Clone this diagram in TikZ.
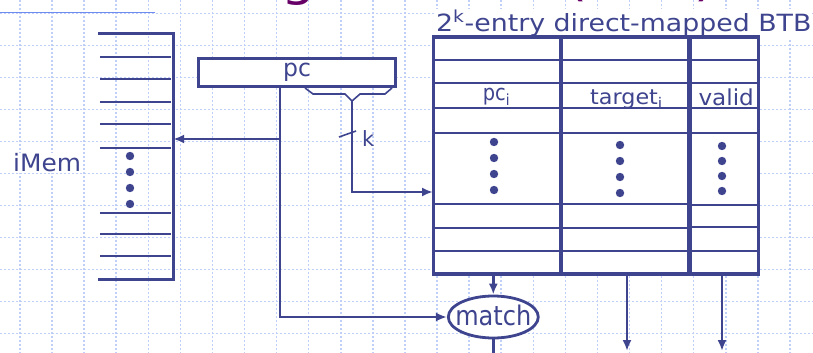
\documentclass[tikz,border=0pt]{standalone}
\usepackage{graphicx}
\usepackage{fontspec}
\setmainfont{DejaVu Sans}
\usetikzlibrary{arrows.meta,shapes.geometric}
\definecolor{ink}{RGB}{62,68,142}
\definecolor{gridc}{RGB}{192,207,248}
\definecolor{toprule}{RGB}{110,140,240}
\definecolor{ttlc}{RGB}{102,0,102}
\tikzset{
  gridline/.style={gridc, line width=1.5pt, dash pattern=on 2pt off 2pt},
  thickline/.style={ink, line width=3.4pt},
  rowline/.style={ink, line width=2.8pt},
  conn/.style={ink, line width=2.8pt, -{Latex[length=11pt,width=9pt]}},
  plainconn/.style={ink, line width=2.8pt},
  thinline/.style={ink, line width=1.6pt},
  lbl/.style={text=ink, inner sep=0pt},
}
\newcommand{\tx}[3]{\scalebox{#2}[1]{\fontsize{#1}{#1}\selectfont #3}}
\begin{document}
\begin{tikzpicture}[x=1pt,y=-1pt]
\useasboundingbox (0,0) rectangle (813,353);
\begin{scope}
\clip (0,0) rectangle (813,353);
% background grid
\foreach \i in {0,...,24} \draw[gridline] (20+32.08*\i,0) -- (20+32.08*\i,353);
\foreach \j in {0,...,10} \draw[gridline] (0,13.5+32*\j) -- (813,13.5+32*\j);
\draw[toprule, line width=1.2pt] (0,12.5) -- (155,12.5);
% slide title (cut off at the top, as in the slide)
\node[anchor=base west, text=ttlc, inner sep=0pt] (slidetitle) at (-4,-4) {\tx{48}{1.12}{Branch Target Buffer (BTB)}};
% BTB caption
\node[lbl, anchor=base west, fill=white, inner sep=1pt] (btbtitle) at (435,32) {\tx{23.7}{1.13}{2\textsuperscript{k}-entry direct-mapped BTB}};
% iMem
\node[inner sep=0pt, minimum width=75pt, minimum height=245pt] (imem) at (135.5,156.5) {};
\draw[thickline] (imem.north west) -- (imem.north east) -- (imem.south east) -- (imem.south west);
\foreach \y in {57,79,102,124,148,213,234,256} \draw[rowline] (100,\y) -- (171,\y);
\foreach \y in {156,172,188,204} \fill[ink] (130,\y) circle[radius=4.2pt];
\node[lbl, anchor=base west, fill=white, inner sep=1pt] (imemlbl) at (12,171.7) {\tx{23.9}{1.04}{iMem}};
% pc register
\node[draw=ink, line width=3.4pt, fill=white, text=ink, minimum width=196.5pt, minimum height=28pt, inner sep=0pt] (pc) at (297,72.5) {\tx{24}{0.98}{pc}};
% splitter under pc
\coordinate (kpt) at (352,101);
\draw[thinline] (305,88) -- (313,94) -- (345,94) -- (kpt) -- (360,94) -- (385,94) -- (392,88);
% BTB table
\node[draw=ink, line width=3.4pt, fill=white, minimum width=325pt, minimum height=237pt, inner sep=0pt] (btb) at (596.2,155.5) {};
\draw[thickline] (560.8,37) -- (560.8,274);
\draw[ink, line width=4.5pt] (689.7,37) -- (689.7,274);
\foreach \y in {60,83,108,133,204,228,251} \draw[rowline] (435,\y) -- (689,\y);
\foreach \y in {60,83,108,133,205,227,251} \draw[rowline] (690,\y) -- (757,\y);
\node[lbl, anchor=base] (pci) at (496.5,100.5) {\tx{22}{0.88}{pc\textsubscript{i}}};
\node[lbl, anchor=base] (tgti) at (626.5,104) {\tx{21}{1.06}{target\textsubscript{i}}};
\node[lbl, anchor=base] (valid) at (726.2,105) {\tx{22}{1.05}{valid}};
\foreach \y in {142,158,174,190} \fill[ink] (494,\y) circle[radius=4.2pt];
\foreach \y in {145,161,177,193} \fill[ink] (620,\y) circle[radius=4.2pt];
\foreach \y in {146,161,176,191} \fill[ink] (722,\y) circle[radius=4.2pt];
% match comparator
\node[draw=ink, line width=2.8pt, ellipse, fill=white, text=ink, minimum width=90pt, minimum height=42pt, inner sep=0pt] (match) at (493.3,317) {\makebox[0pt]{\raisebox{-8pt}[0pt][0pt]{\tx{27}{0.89}{match}}}};
% connectors
\coordinate (tap) at (280,139);
\draw[plainconn] (pc.south -| tap) -- (tap);
\draw[conn] (tap) -- (tap -| imem.east);
\draw[conn] (tap) |- (match.west);
\coordinate (kin) at (433,192);
\draw[conn] (kpt) |- (kin);
\draw[thinline] (339,137) -- (356,131);
\node[lbl, anchor=base west] (klbl) at (362,146) {\tx{21}{1}{k}};
\draw[conn] (btb.south -| match.north) -- (match.north);
\coordinate (mout) at (493.3,358);
\draw[plainconn] (match.south) -- (mout);
\coordinate (tout) at (627,351);
\coordinate (vout) at (722,351);
\draw[conn] (btb.south -| tout) -- (tout);
\draw[conn] (btb.south -| vout) -- (vout);
\end{scope}
\end{tikzpicture}
\end{document}
